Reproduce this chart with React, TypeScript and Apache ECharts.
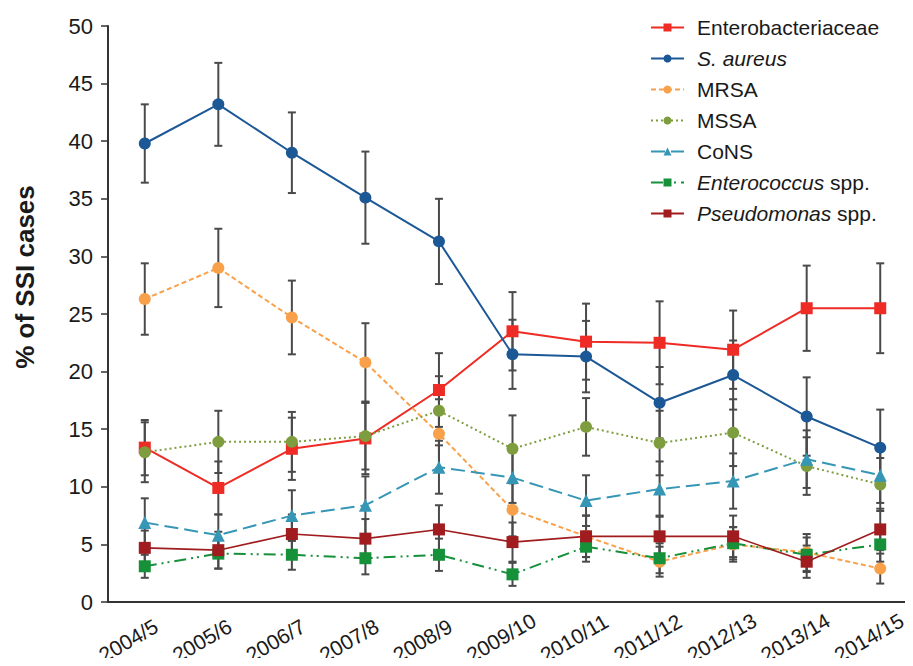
import React, { useEffect, useRef } from "react";
import * as echarts from "echarts";

const categories = ["2004/5", "2005/6", "2006/7", "2007/8", "2008/9", "2009/10", "2010/11", "2011/12", "2012/13", "2013/14", "2014/15"];

const enteroVals = [13.4, 9.9, 13.3, 14.2, 18.4, 23.5, 22.6, 22.5, 21.9, 25.5, 25.5];
const enteroErr = [2.4, 2.3, 2.7, 3.1, 3.2, 3.4, 3.3, 3.6, 3.4, 3.7, 3.9];

const aureusVals = [39.8, 43.2, 39.0, 35.1, 31.3, 21.5, 21.3, 17.3, 19.7, 16.1, 13.4];
const aureusErr = [3.4, 3.6, 3.5, 4.0, 3.7, 3.0, 3.1, 3.1, 3.0, 3.4, 3.3];

const mrsaVals = [26.3, 29.0, 24.7, 20.8, 14.6, 8.0, 5.7, 3.5, 5.0, 4.3, 2.9];
const mrsaErr = [3.1, 3.4, 3.2, 3.4, 3.0, 2.3, 1.8, 1.3, 1.5, 1.6, 1.3];

const mssaVals = [13.0, 13.9, 13.9, 14.4, 16.6, 13.3, 15.2, 13.8, 14.7, 11.8, 10.2];
const mssaErr = [2.6, 2.7, 2.6, 2.9, 3.0, 2.9, 2.5, 2.8, 2.9, 2.5, 2.3];

const consVals = [6.9, 5.8, 7.5, 8.4, 11.7, 10.8, 8.8, 9.8, 10.5, 12.4, 11.0];
const consErr = [2.1, 1.8, 2.2, 2.5, 2.3, 2.2, 2.2, 2.4, 2.4, 2.5, 2.4];

const enterococcusVals = [3.1, 4.2, 4.1, 3.8, 4.1, 2.4, 4.8, 3.8, 5.1, 4.1, 5.0];
const enterococcusErr = [1.0, 1.3, 1.3, 1.4, 1.4, 1.0, 1.3, 1.3, 1.4, 1.5, 1.5];

const pseudoVals = [4.7, 4.5, 5.9, 5.5, 6.3, 5.2, 5.7, 5.7, 5.7, 3.5, 6.3];
const pseudoErr = [1.5, 1.6, 1.7, 1.7, 2.1, 1.7, 1.8, 1.8, 1.8, 1.4, 1.8];

const yTicks = { min: 0, max: 50, interval: 5 };

const FONT = "'Liberation Sans', Arial, sans-serif";

type S = {
  name: string;
  legend: string;
  vals: number[];
  err: number[];
  color: string;
  symbol: string;
  size: number;
  dash: any;
  width: number;
};

const seriesDefs: S[] = [
  { name: "Enterobacteriaceae", legend: "Enterobacteriaceae", vals: enteroVals, err: enteroErr, color: "#EE2B24", symbol: "rect", size: 12, dash: "solid", width: 2 },
  { name: "S. aureus", legend: "{i|S. aureus}", vals: aureusVals, err: aureusErr, color: "#1C5895", symbol: "circle", size: 12, dash: "solid", width: 2 },
  { name: "MRSA", legend: "MRSA", vals: mrsaVals, err: mrsaErr, color: "#F9A14A", symbol: "circle", size: 12, dash: [5, 3], width: 2 },
  { name: "MSSA", legend: "MSSA", vals: mssaVals, err: mssaErr, color: "#7E9D3E", symbol: "circle", size: 12, dash: [2, 3], width: 2 },
  { name: "CoNS", legend: "CoNS", vals: consVals, err: consErr, color: "#3596B5", symbol: "triangle", size: 13, dash: [14, 6], width: 2 },
  { name: "Enterococcus spp.", legend: "{i|Enterococcus} spp.", vals: enterococcusVals, err: enterococcusErr, color: "#17903A", symbol: "rect", size: 12, dash: [12, 5, 2, 4, 2, 5], width: 2 },
  { name: "Pseudomonas spp.", legend: "{i|Pseudomonas} spp.", vals: pseudoVals, err: pseudoErr, color: "#A11C1F", symbol: "rect", size: 12, dash: "solid", width: 1.6 },
];

export default function App() {
  const ref = useRef<HTMLDivElement>(null);
  useEffect(() => {
    if (!ref.current) return;
    const chart = echarts.init(ref.current, undefined, { renderer: "svg" });

    const errSeries = seriesDefs.map((d) => ({
      type: "custom",
      name: "err-" + d.name,
      z: 1,
      silent: true,
      data: d.vals.map((v, i) => [i, v, d.err[i]]),
      encode: { x: 0, y: 1 },
      renderItem: (params: any, api: any) => {
        const x = api.value(0);
        const v = api.value(1);
        const e = api.value(2);
        const top = api.coord([x, v + e]);
        const bot = api.coord([x, v - e]);
        const hw = 4;
        const st = { stroke: "#4a4a4a", lineWidth: 2 };
        return {
          type: "group",
          children: [
            { type: "line", shape: { x1: top[0], y1: top[1], x2: bot[0], y2: bot[1] }, style: st },
            { type: "line", shape: { x1: top[0] - hw, y1: top[1], x2: top[0] + hw, y2: top[1] }, style: st },
            { type: "line", shape: { x1: bot[0] - hw, y1: bot[1], x2: bot[0] + hw, y2: bot[1] }, style: st },
          ],
        };
      },
    }));

    const lineSeries = seriesDefs.map((d) => ({
      type: "line",
      name: d.name,
      z: 3,
      data: d.vals,
      symbol: d.symbol,
      symbolSize: d.size,
      showAllSymbol: true,
      lineStyle: { color: d.color, width: d.width, type: d.dash },
      itemStyle: { color: d.color },
    }));

    const legendMap: Record<string, string> = {};
    seriesDefs.forEach((d) => (legendMap[d.name] = d.legend));

    chart.setOption({
      animation: false,
      backgroundColor: "#ffffff",
      grid: { left: 108, right: -4, top: 26, bottom: 64, containLabel: false, outerBoundsMode: "none" },
      legend: {
        orient: "vertical",
        left: 650,
        top: 15,
        padding: 0,
        itemWidth: 33,
        itemHeight: 10,
        itemGap: 6,
        data: seriesDefs.map((d) => d.name),
        formatter: (n: string) => legendMap[n],
        textStyle: {
          fontFamily: FONT,
          fontSize: 21,
          lineHeight: 25,
          color: "#1a1a1a",
          padding: [0, 0, 0, 8],
          rich: { i: { fontStyle: "italic", fontFamily: FONT, fontSize: 21, lineHeight: 25, color: "#1a1a1a" } },
        },
      },
      xAxis: {
        type: "category",
        data: categories,
        boundaryGap: true,
        axisLine: { lineStyle: { color: "#333", width: 2 } },
        axisTick: { length: 7, lineStyle: { color: "#333", width: 1.5 } },
        axisLabel: {
          interval: 0,
          rotate: 30,
          align: "left",
          verticalAlign: "middle",
          padding: [0, 0, 0, -51],
          fontFamily: FONT,
          fontSize: 21,
          color: "#1a1a1a",
          margin: 29,
        },
      },
      yAxis: {
        type: "value",
        min: yTicks.min,
        max: yTicks.max,
        interval: yTicks.interval,
        name: "% of SSI cases",
        nameLocation: "middle",
        nameGap: 70,
        nameTextStyle: { fontFamily: FONT, fontSize: 26, fontWeight: "bold", color: "#1a1a1a", padding: [0, 0, 0, 74] },
        axisLine: { show: true, lineStyle: { color: "#333", width: 2 } },
        axisTick: { show: true, length: 7, lineStyle: { color: "#333", width: 1.5 } },
        splitLine: { show: false },
        axisLabel: { fontFamily: FONT, fontSize: 22, color: "#1a1a1a", margin: 15 },
      },
      series: [...errSeries, ...lineSeries],
    });
    return () => chart.dispose();
  }, []);
  return <div ref={ref} style={{ width: 913, height: 666, margin: -8 }} />;
}
